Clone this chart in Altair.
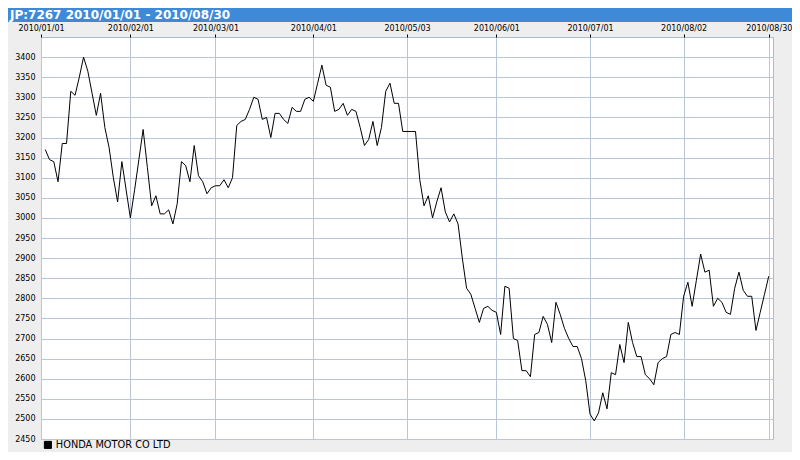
import altair as alt
import numpy as np
import pandas as pd

title_text = "JP:7267 2010/01/01 - 2010/08/30"
series_name = "HONDA MOTOR CO LTD"
axis_start = "2010-01-01"
first_trade = "2010-01-04"
last_trade = "2010-08-30"

# daily closes, one per weekday from 2010-01-04 to 2010-08-30 (holidays carry the previous close)
prices = [
    3170, 3145, 3140, 3090, 3185, 3185, 3315, 3305, 3350, 3400,
    3365, 3310, 3255, 3310, 3225, 3175, 3100, 3040, 3140, 3070,
    3000, 3070, 3145, 3220, 3125, 3030, 3055, 3010, 3010, 3020,
    2985, 3035, 3140, 3130, 3090, 3180, 3105, 3090, 3060, 3075,
    3080, 3080, 3095, 3075, 3100, 3230, 3240, 3245, 3270, 3300,
    3295, 3245, 3250, 3200, 3260, 3260, 3245, 3235, 3275, 3265,
    3265, 3295, 3300, 3290, 3335, 3380, 3330, 3325, 3265, 3270,
    3285, 3255, 3270, 3265, 3225, 3180, 3195, 3240, 3180, 3225,
    3315, 3335, 3285, 3285, 3215, 3215, 3215, 3215, 3095, 3030,
    3055, 3000, 3040, 3075, 3015, 2990, 3010, 2985, 2900, 2825,
    2810, 2775, 2740, 2775, 2780, 2770, 2765, 2710, 2830, 2825,
    2700, 2695, 2620, 2620, 2605, 2710, 2715, 2755, 2735, 2690,
    2790, 2760, 2725, 2700, 2680, 2680, 2650, 2595, 2512, 2495,
    2515, 2565, 2525, 2615, 2610, 2685, 2640, 2740, 2690, 2655,
    2655, 2610, 2600, 2585, 2640, 2650, 2655, 2710, 2715, 2710,
    2805, 2840, 2780, 2845, 2910, 2865, 2870, 2780, 2800, 2790,
    2765, 2760, 2825, 2865, 2820, 2805, 2805, 2720, 2765, 2810,
    2855,
]

tick_dates = ["2010-01-01", "2010-02-01", "2010-03-01", "2010-04-01", "2010-05-03",
              "2010-06-01", "2010-07-01", "2010-08-02", "2010-08-30"]
tick_labels = ["2010/01/01", "2010/02/01", "2010/03/01", "2010/04/01", "2010/05/03",
               "2010/06/01", "2010/07/01", "2010/08/02", "2010/08/30"]
y_ticks = [2450, 2500, 2550, 2600, 2650, 2700, 2750, 2800, 2850, 2900, 2950,
           3000, 3050, 3100, 3150, 3200, 3250, 3300, 3350, 3400]

dates = pd.bdate_range(first_trade, last_trade)
day_idx = np.busday_count(np.datetime64(axis_start),
                          dates.values.astype("datetime64[D]"))
df = pd.DataFrame({
    "idx": day_idx.astype(int),
    "price": prices[:len(dates)],
    "date": dates.strftime("%Y/%m/%d"),
    "series": series_name,
})

tick_idx = np.busday_count(np.datetime64(axis_start),
                           np.array(tick_dates, dtype="datetime64[D]")).astype(int).tolist()
label_expr = ("[" + ",".join("'%s'" % s for s in tick_labels) + "][indexof(["
              + ",".join(str(v) for v in tick_idx) + "], datum.value)]")

FONT = "DejaVu Sans"
GRID = "#b7c7d8"

line = alt.Chart(df).mark_line(strokeWidth=1).encode(
    x=alt.X("idx:Q",
            scale=alt.Scale(domain=[0, 172], nice=False, zero=False),
            axis=alt.Axis(orient="top", values=tick_idx, labelExpr=label_expr,
                          title=None, grid=True, gridColor=GRID, gridOpacity=1,
                          tickColor="#000000", tickSize=3, domain=False,
                          labelFont=FONT, labelFontSize=8, labelColor="#000000",
                          labelPadding=2, labelFlush=False, labelOverlap=False,
                          labelBound=False)),
    y=alt.Y("price:Q",
            scale=alt.Scale(domain=[2450, 3450], nice=False, zero=False),
            axis=alt.Axis(values=y_ticks, title=None, grid=True, gridColor=GRID,
                          gridOpacity=1, ticks=False, domain=False, format="d",
                          labelFont=FONT, labelFontSize=8, labelColor="#000000",
                          labelPadding=6, labelOverlap=False)),
    color=alt.Color("series:N", scale=alt.Scale(range=["#000000"]),
                    legend=alt.Legend(orient="none", legendX=2, legendY=403,
                                      title=None, symbolType="square",
                                      symbolFillColor="#000000",
                                      symbolStrokeColor="#000000",
                                      symbolSize=50, symbolStrokeWidth=1,
                                      labelFont=FONT, labelFontSize=9.8,
                                      labelColor="#000000", padding=0,
                                      labelOffset=3)),
)

one = alt.Data(values=[{"k": 1}])
bar = alt.Chart(one).mark_rect(color="#3f8ad8").encode(
    x=alt.value(-33), x2=alt.value(751), y=alt.value(-29), y2=alt.value(-15))
title = alt.Chart(one).mark_text(align="left", baseline="alphabetic", font=FONT,
                                 fontSize=12, fontWeight="bold", color="#ffffff").encode(
    x=alt.value(-31), y=alt.value(-18), text=alt.value(title_text))

chart = alt.layer(bar, title, line).properties(
    width=732, height=402,
    autosize=alt.AutoSizeParams(type="none"),
    padding={"left": 33, "top": 29, "right": 19, "bottom": 13},
    background="#eeeeee",
).configure_view(fill="#ffffff", stroke="#a9bccf", strokeWidth=1)

chart.save("out.html", embed_options={"renderer": "svg", "actions": False})
